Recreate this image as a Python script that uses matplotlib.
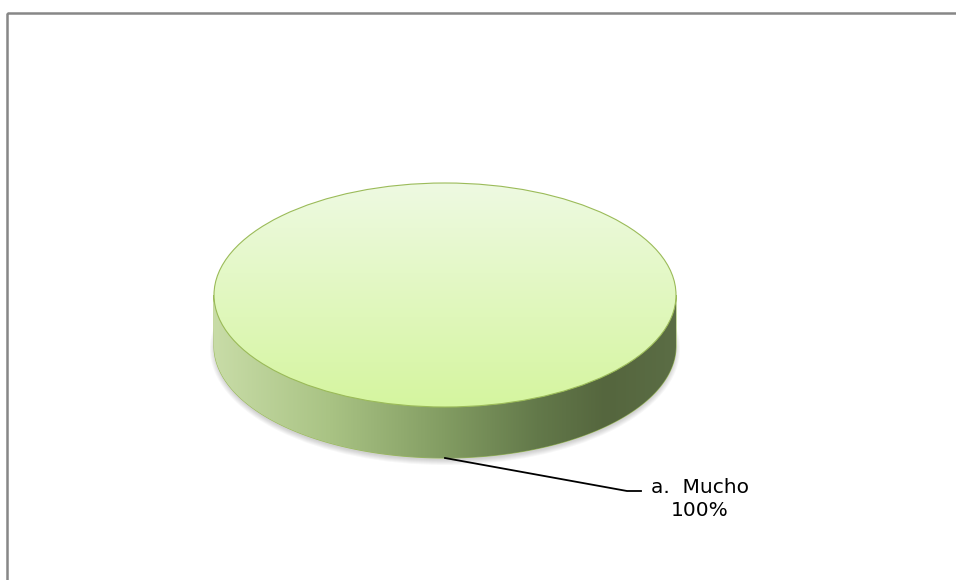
import numpy as np
import matplotlib
matplotlib.use("Agg")
import matplotlib.pyplot as plt
from matplotlib.patches import Ellipse, Polygon, Rectangle
from matplotlib.colors import LinearSegmentedColormap

# data
labels = ["a.  Mucho"]
values = [100]

# layout (pixels)
W, H = 956, 580
cx, cy = 445, 295        # centre of top face
rx, ry = 231, 112        # semi-axes of top face
depth = 51               # thickness of the disc

top_cmap = LinearSegmentedColormap.from_list("top", ["#eefae2", "#d5f59f"])
side_cmap = LinearSegmentedColormap.from_list(
    "side", [(0.0, "#c8dca7"), (0.25, "#a9c384"), (0.5, "#829c62"),
             (0.7, "#63794a"), (0.85, "#55663e"), (1.0, "#5b6d45")])
edge = "#9bbb59"

fig = plt.figure(figsize=(W / 100, H / 100), dpi=100)
ax = fig.add_axes([0, 0, 1, 1])
ax.set_xlim(0, W)
ax.set_ylim(H, 0)
ax.axis("off")

# frame
ax.add_patch(Rectangle((7.5, 13), W + 10, H + 10, fill=False,
                       edgecolor="#878787", lw=1.8))

# soft shadow under the disc
for k in range(6):
    ax.add_patch(Ellipse((cx, cy + depth + 3), 2 * rx + 8 - k * 2, 2 * ry + 8 - k * 2,
                         facecolor="#000000", edgecolor="none", alpha=0.03, zorder=1))

total = sum(values)
start = 90.0
for lab, v in zip(labels, values):
    sweep = 360.0 * v / total
    # side band (only the front half, 0..180 deg in screen coords)
    t = np.linspace(0, np.pi, 200)
    upper = np.column_stack([cx + rx * np.cos(t), cy + ry * np.sin(t)])
    lower = upper[::-1] + [0, depth]
    side = Polygon(np.vstack([upper, lower]), closed=True, facecolor="none",
                   edgecolor=edge, lw=0.8, zorder=2)
    ax.add_patch(side)
    grad = np.linspace(0, 1, 256).reshape(1, -1)
    im = ax.imshow(grad, cmap=side_cmap, extent=[cx - rx, cx + rx, cy + ry + depth, cy - 2],
                   aspect="auto", zorder=2)
    im.set_clip_path(side)

    # top face
    topf = Ellipse((cx, cy), 2 * rx, 2 * ry, facecolor="none", edgecolor=edge,
                   lw=0.8, zorder=4)
    ax.add_patch(topf)
    gv = np.linspace(0, 1, 256).reshape(-1, 1)
    im2 = ax.imshow(gv, cmap=top_cmap, extent=[cx - rx, cx + rx, cy + ry, cy - ry],
                    aspect="auto", zorder=3)
    im2.set_clip_path(topf)

    # label with leader line
    px, py = cx, cy + ry + depth
    ax.plot([px, 627, 641], [py, 491, 491], color="black", lw=1.3, zorder=5)
    ax.text(700, 516.5, f"{lab}\n{v / total:.0%}", ha="center", va="baseline",
            fontsize=14.5, family="DejaVu Sans", linespacing=1.27, zorder=5)
    start += sweep

fig.savefig("out.png", dpi=100)
